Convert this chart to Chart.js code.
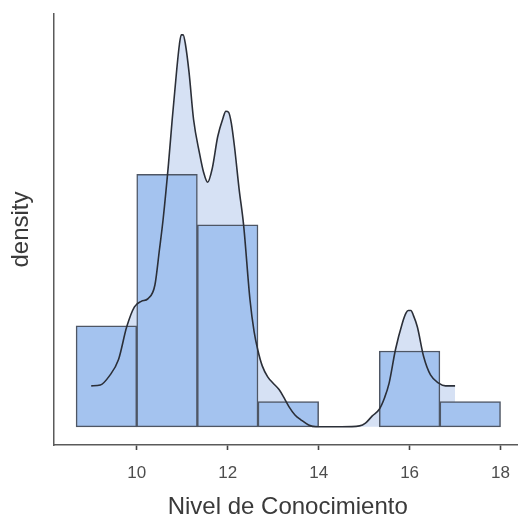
<!DOCTYPE html>
<html>
<head>
<meta charset="utf-8">
<script src="https://cdn.jsdelivr.net/npm/chart.js@4/dist/chart.umd.min.js"></script>
<style>
  html, body { margin: 0; padding: 0; background: #ffffff; overflow: hidden; }
  #wrap { width: 518px; height: 518px; overflow: hidden; position: relative; }
  canvas { display: block; }
</style>
</head>
<body>
<div id="wrap"><canvas id="c" width="523" height="518"></canvas></div>
<script>
// Histogram: bin edges start and width, counts per bin
const binStart = 8.6667;
const binWidth = 1.3333;
const binCounts = [4, 10, 8, 1, 0, 3, 1];
// Density curve
const densX = [9.00, 9.20, 9.40, 9.60, 9.78, 9.95, 10.10, 10.25, 10.40, 10.50, 10.58, 10.70, 10.78, 10.88, 10.94, 10.98, 11.02, 11.07, 11.15, 11.25, 11.38, 11.47, 11.56, 11.66, 11.78, 11.90, 11.96, 12.02, 12.08, 12.15, 12.25, 12.35, 12.49, 12.58, 12.66, 12.76, 12.88, 13.00, 13.13, 13.25, 13.35, 13.48, 13.61, 13.78, 13.94, 14.50, 14.90, 15.03, 15.18, 15.33, 15.45, 15.55, 15.69, 15.84, 15.92, 15.97, 16.03, 16.08, 16.17, 16.31, 16.46, 16.64, 16.79, 17.00];
const densY = [0.045, 0.046, 0.056, 0.074, 0.110, 0.132, 0.138, 0.141, 0.156, 0.195, 0.228, 0.290, 0.338, 0.393, 0.421, 0.431, 0.431, 0.421, 0.390, 0.338, 0.301, 0.280, 0.269, 0.284, 0.319, 0.340, 0.347, 0.346, 0.334, 0.308, 0.262, 0.222, 0.140, 0.105, 0.085, 0.067, 0.055, 0.048, 0.041, 0.031, 0.022, 0.013, 0.0077, 0.002, 0.000, 0.000, 0.001, 0.004, 0.012, 0.019, 0.032, 0.048, 0.085, 0.114, 0.125, 0.128, 0.128, 0.123, 0.110, 0.077, 0.057, 0.048, 0.045, 0.045];
const xTicks = [10, 12, 14, 16, 18];
const xTitle = 'Nivel de Conocimiento';
const yTitle = 'density';

const total = binCounts.reduce((a, b) => a + b, 0);
const barData = binCounts.map((c, i) => ({ x: binStart + binWidth * (i + 0.5), y: c / (total * binWidth) }));
const curveData = densX.map((x, i) => ({ x: x, y: densY[i] }));

new Chart(document.getElementById('c'), {
  type: 'bar',
  data: {
    datasets: [
      {
        type: 'line',
        data: curveData,
        order: 3,
        fill: 'origin',
        backgroundColor: '#d6e1f4',
        borderWidth: 0,
        borderColor: 'rgba(0,0,0,0)',
        pointRadius: 0,
        cubicInterpolationMode: 'monotone'
      },
      {
        type: 'bar',
        data: barData,
        order: 2,
        backgroundColor: '#a4c3ef',
        borderColor: '#4e5664',
        borderWidth: 1.5,
        borderSkipped: false,
        barPercentage: 1,
        categoryPercentage: 1
      },
      {
        type: 'line',
        data: curveData,
        order: 1,
        fill: false,
        borderColor: '#2b2f38',
        borderWidth: 1.6,
        pointRadius: 0,
        cubicInterpolationMode: 'monotone'
      }
    ]
  },
  options: {
    responsive: false,
    animation: false,
    events: [],
    layout: { padding: { top: 14, left: 0, right: 0, bottom: 0 } },
    plugins: { legend: { display: false }, tooltip: { enabled: false } },
    scales: {
      x: {
        type: 'linear',
        min: 8.181,
        max: 18.46,
        offset: false,
        afterFit: s => { s.height = 73; },
        afterBuildTicks: s => { s.ticks = xTicks.map(v => ({ value: v })); },
        grid: { display: true, drawOnChartArea: false, drawTicks: true, tickLength: 5, tickColor: '#444444', tickWidth: 1.6, offset: false },
        border: { display: true, color: '#5a5a5a', width: 1.5 },
        ticks: { color: '#4d4d4d', font: { family: '"Liberation Sans", Arial, sans-serif', size: 17 }, padding: 13, maxRotation: 0 },
        title: { display: true, text: xTitle, color: '#3a3a3a', font: { family: '"Liberation Sans", Arial, sans-serif', size: 24, lineHeight: 1 }, padding: { top: 0, bottom: -1 } }
      },
      y: {
        min: -0.02,
        max: 0.454,
        afterFit: s => { s.width = 54; },
        grid: { display: false, drawTicks: false },
        border: { display: true, color: '#5a5a5a', width: 1.5 },
        ticks: { display: false },
        title: { display: true, text: yTitle, color: '#3a3a3a', font: { family: '"Liberation Sans", Arial, sans-serif', size: 24, lineHeight: 1 }, padding: { top: 9, bottom: 0 } }
      }
    }
  }
});
</script>
</body>
</html>
